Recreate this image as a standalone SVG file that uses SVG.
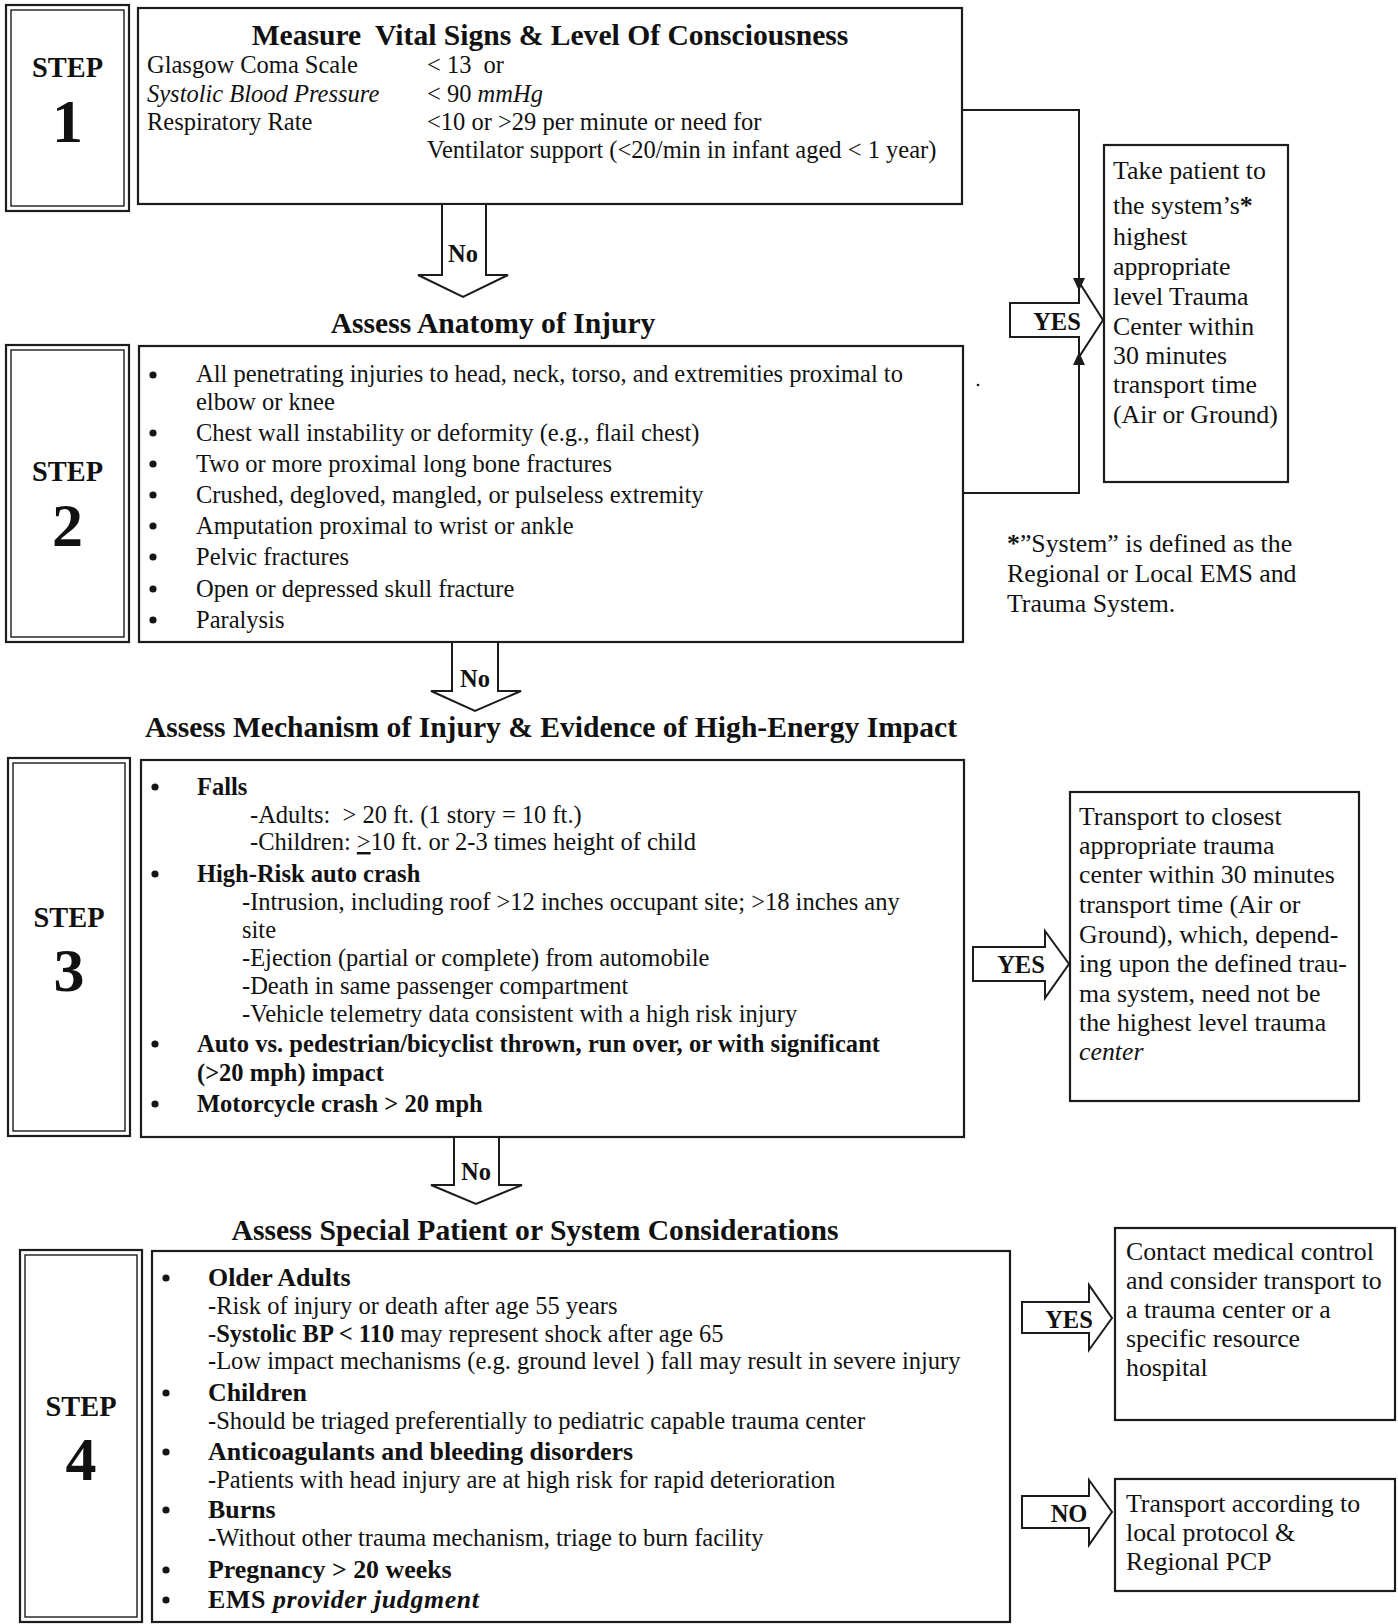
<svg xmlns="http://www.w3.org/2000/svg" width="1398" height="1624" viewBox="0 0 1398 1624">
<style>
text{font-family:"Liberation Serif","Times New Roman",serif;fill:#111}
.t{font-size:24.5px}
.s{font-size:25.8px}
.b{font-weight:bold}
.i{font-style:italic}
.hb{font-size:25.9px;font-weight:bold}
.h{font-size:29.6px;font-weight:bold;text-anchor:middle}
.st{font-size:28.4px;font-weight:bold;text-anchor:middle}
.n{font-size:62px;font-weight:bold;text-anchor:middle}
.lab{font-size:24.5px;font-weight:bold;text-anchor:middle}
.box{fill:#fff;stroke:#1c1c1c;stroke-width:2.2}
.in{fill:none;stroke:#1c1c1c;stroke-width:1.4}
.arr{fill:#fff;stroke:#1c1c1c;stroke-width:2;stroke-linejoin:miter}
.ln{fill:none;stroke:#1c1c1c;stroke-width:2}
.dot{fill:#151515}
</style>
<defs>
<marker id="ah" markerWidth="13" markerHeight="14" refX="13" refY="7" orient="auto" markerUnits="userSpaceOnUse"><path d="M0,1 L13,7 L0,13 z" fill="#1c1c1c"/></marker>
</defs>
<rect width="1398" height="1624" fill="#fff"/>

<!-- STEP 1 -->
<g id="step1-label">
<rect class="box" x="6" y="5" width="123" height="206"/>
<rect class="in" x="11" y="10" width="113" height="196"/>
<text class="st" x="67.5" y="77">STEP</text>
<text class="n" x="67.5" y="142">1</text>
</g>
<g id="step1">
<rect class="box" x="138" y="8" width="824" height="196"/>
<text class="h" x="550" y="45">Measure <tspan dx="7">Vital Signs &amp; Level Of Consciousness</tspan></text>
<text class="t" x="147" y="73">Glasgow Coma Scale</text>
<text class="t" x="427" y="73">&lt; 13 <tspan dx="6">or</tspan></text>
<text class="t i" x="147" y="102">Systolic Blood Pressure</text>
<text class="t" x="427" y="102">&lt; 90 <tspan class="i">mmHg</tspan></text>
<text class="t" x="147" y="130">Respiratory Rate</text>
<text class="t" x="427" y="130">&lt;10 or &gt;29 per minute or need for</text>
<text class="t" x="427" y="158">Ventilator support (&lt;20/min in infant aged &lt; 1 year)</text>
</g>

<!-- STEP 2 -->
<g id="step2-title"><text class="h" x="493" y="333">Assess Anatomy of Injury</text></g>
<g id="step2-label">
<rect class="box" x="6" y="345" width="123" height="297"/>
<rect class="in" x="11" y="350" width="113" height="287"/>
<text class="st" x="67.5" y="481">STEP</text>
<text class="n" x="67.5" y="546">2</text>
</g>
<g id="step2">
<rect class="box" x="139" y="346" width="824" height="296"/>
<circle class="dot" cx="153" cy="375" r="3.6"/>
<circle class="dot" cx="153" cy="433" r="3.6"/>
<circle class="dot" cx="153" cy="464" r="3.6"/>
<circle class="dot" cx="153" cy="495" r="3.6"/>
<circle class="dot" cx="153" cy="526" r="3.6"/>
<circle class="dot" cx="153" cy="557" r="3.6"/>
<circle class="dot" cx="153" cy="589" r="3.6"/>
<circle class="dot" cx="153" cy="620" r="3.6"/>
<text class="t" x="196" y="382">All penetrating injuries to head, neck, torso, and extremities proximal to</text>
<text class="t" x="196" y="410">elbow or knee</text>
<text class="t" x="196" y="441">Chest wall instability or deformity (e.g., flail chest)</text>
<text class="t" x="196" y="472">Two or more proximal long bone fractures</text>
<text class="t" x="196" y="503">Crushed, degloved, mangled, or pulseless extremity</text>
<text class="t" x="196" y="534">Amputation proximal to wrist or ankle</text>
<text class="t" x="196" y="565">Pelvic fractures</text>
<text class="t" x="196" y="597">Open or depressed skull fracture</text>
<text class="t" x="196" y="628">Paralysis</text>
</g>
<circle class="dot" cx="978" cy="385" r="1.3"/>

<!-- result 1/2 -->
<g id="trauma-center">
<rect class="box" x="1104" y="145" width="184" height="337"/>
<text class="s" x="1113" y="179">Take patient to</text>
<text class="s" x="1113" y="214">the system’s<tspan class="b">*</tspan></text>
<text class="s" x="1113" y="245">highest</text>
<text class="s" x="1113" y="275">appropriate</text>
<text class="s" x="1113" y="305">level Trauma</text>
<text class="s" x="1113" y="335">Center within</text>
<text class="s" x="1113" y="364">30 minutes</text>
<text class="s" x="1113" y="393">transport time</text>
<text class="s" x="1113" y="423">(Air or Ground)</text>
</g>
<g id="footnote">
<text class="s" x="1007" y="552"><tspan class="b">*</tspan>”System” is defined as the</text>
<text class="s" x="1007" y="582">Regional or Local EMS and</text>
<text class="s" x="1007" y="612">Trauma System.</text>
</g>

<!-- STEP 3 -->
<g id="step3-title"><text class="h" x="551" y="737">Assess Mechanism of Injury &amp; Evidence of High-Energy Impact</text></g>
<g id="step3-label">
<rect class="box" x="8" y="758" width="122" height="378"/>
<rect class="in" x="13" y="763" width="112" height="368"/>
<text class="st" x="69" y="927">STEP</text>
<text class="n" x="69" y="991">3</text>
</g>
<g id="step3">
<rect class="box" x="141" y="760" width="823" height="377"/>
<circle class="dot" cx="155" cy="787" r="3.6"/>
<circle class="dot" cx="155" cy="874" r="3.6"/>
<circle class="dot" cx="155" cy="1044" r="3.6"/>
<circle class="dot" cx="155" cy="1104" r="3.6"/>
<text class="t b" x="197" y="795">Falls</text>
<text class="t" x="250" y="823">-Adults: <tspan dx="6">&gt; 20 ft. (1 story = 10 ft.)</tspan></text>
<text class="t" x="250" y="850">-Children: <tspan text-decoration="underline">&gt;</tspan>10 ft. or 2-3 times height of child</text>
<text class="t b" x="197" y="882">High-Risk auto crash</text>
<text class="t" x="242" y="910">-Intrusion, including roof &gt;12 inches occupant site; &gt;18 inches any</text>
<text class="t" x="242" y="938">site</text>
<text class="t" x="242" y="966">-Ejection (partial or complete) from automobile</text>
<text class="t" x="242" y="994">-Death in same passenger compartment</text>
<text class="t" x="242" y="1022">-Vehicle telemetry data consistent with a high risk injury</text>
<text class="t b" x="197" y="1052" textLength="683">Auto vs. pedestrian/bicyclist thrown, run over, or with significant</text>
<text class="t b" x="197" y="1081">(&gt;20 mph) impact</text>
<text class="t b" x="197" y="1112">Motorcycle crash &gt; 20 mph</text>
</g>
<g id="closest-trauma-center">
<rect class="box" x="1070" y="792" width="289" height="309"/>
<text class="s" x="1079" y="825">Transport to closest</text>
<text class="s" x="1079" y="854">appropriate trauma</text>
<text class="s" x="1079" y="883">center within 30 minutes</text>
<text class="s" x="1079" y="913">transport time (Air or</text>
<text class="s" x="1079" y="943">Ground), which, depend-</text>
<text class="s" x="1079" y="972">ing upon the defined trau-</text>
<text class="s" x="1079" y="1002">ma system, need not be</text>
<text class="s" x="1079" y="1031">the highest level trauma</text>
<text class="s i" x="1079" y="1060">center</text>
</g>

<!-- STEP 4 -->
<g id="step4-title"><text class="h" x="535" y="1240">Assess Special Patient or System Considerations</text></g>
<g id="step4-label">
<rect class="box" x="20" y="1250" width="122" height="372"/>
<rect class="in" x="25" y="1255" width="112" height="362"/>
<text class="st" x="81" y="1416">STEP</text>
<text class="n" x="81" y="1480">4</text>
</g>
<g id="step4">
<rect class="box" x="152" y="1251" width="858" height="371"/>
<circle class="dot" cx="166" cy="1278" r="3.6"/>
<circle class="dot" cx="166" cy="1393" r="3.6"/>
<circle class="dot" cx="166" cy="1452" r="3.6"/>
<circle class="dot" cx="166" cy="1510" r="3.6"/>
<circle class="dot" cx="166" cy="1570" r="3.6"/>
<circle class="dot" cx="166" cy="1600" r="3.6"/>
<text class="hb" x="208" y="1286">Older Adults</text>
<text class="t" x="208" y="1314">-Risk of injury or death after age 55 years</text>
<text class="t" x="208" y="1342">-<tspan class="b">Systolic BP &lt; 110</tspan> may represent shock after age 65</text>
<text class="t" x="208" y="1369">-Low impact mechanisms (e.g. ground level ) fall may result in severe injury</text>
<text class="hb" x="208" y="1401">Children</text>
<text class="t" x="208" y="1429">-Should be triaged preferentially to pediatric capable trauma center</text>
<text class="hb" x="208" y="1460">Anticoagulants and bleeding disorders</text>
<text class="t" x="208" y="1488">-Patients with head injury are at high risk for rapid deterioration</text>
<text class="hb" x="208" y="1518">Burns</text>
<text class="t" x="208" y="1546">-Without other trauma mechanism, triage to burn facility</text>
<text class="hb" x="208" y="1578">Pregnancy &gt; 20 weeks</text>
<text class="hb" x="208" y="1608" textLength="271">EMS <tspan class="i">provider judgment</tspan></text>
</g>
<g id="medical-control">
<rect class="box" x="1115" y="1228" width="280" height="192"/>
<text class="s" x="1126" y="1260">Contact medical control</text>
<text class="s" x="1126" y="1289">and consider transport to</text>
<text class="s" x="1126" y="1318">a trauma center or a</text>
<text class="s" x="1126" y="1347">specific resource</text>
<text class="s" x="1126" y="1376">hospital</text>
</g>
<g id="local-protocol">
<rect class="box" x="1115" y="1479" width="280" height="112"/>
<text class="s" x="1126" y="1512">Transport according to</text>
<text class="s" x="1126" y="1541">local protocol &amp;</text>
<text class="s" x="1126" y="1570">Regional PCP</text>
</g>

<!-- connectors -->
<g id="connectors">
<polygon class="arr" points="442,204 442,275 418,275 463,297 508,275 486,275 486,204"/>
<text class="lab" x="463" y="262">No</text>
<polygon class="arr" points="452,642 452,691 431,691 475,711 521,691 498,691 498,642"/>
<text class="lab" x="475" y="687">No</text>
<polygon class="arr" points="454,1137 454,1185 431,1185 476,1204 522,1185 499,1185 499,1137"/>
<text class="lab" x="476" y="1180">No</text>

<polygon class="arr" points="1010,303 1079,303 1079,282 1103,320 1079,357 1079,337 1010,337"/>
<text class="lab" x="1057" y="330">YES</text>
<path class="ln" d="M962,110 H1079 V291" marker-end="url(#ah)"/>
<path class="ln" d="M963,493 H1079 V352" marker-end="url(#ah)"/>

<polygon class="arr" points="973,947 1045,947 1045,931 1069,964 1045,998 1045,981 973,981"/>
<text class="lab" x="1021" y="973">YES</text>

<polygon class="arr" points="1022,1302 1089,1302 1089,1285 1112,1318 1089,1350 1089,1333 1022,1333"/>
<text class="lab" x="1069" y="1328">YES</text>
<polygon class="arr" points="1022,1496 1089,1496 1089,1480 1112,1512 1089,1545 1089,1528 1022,1528"/>
<text class="lab" x="1069" y="1522">NO</text>
</g>
</svg>
